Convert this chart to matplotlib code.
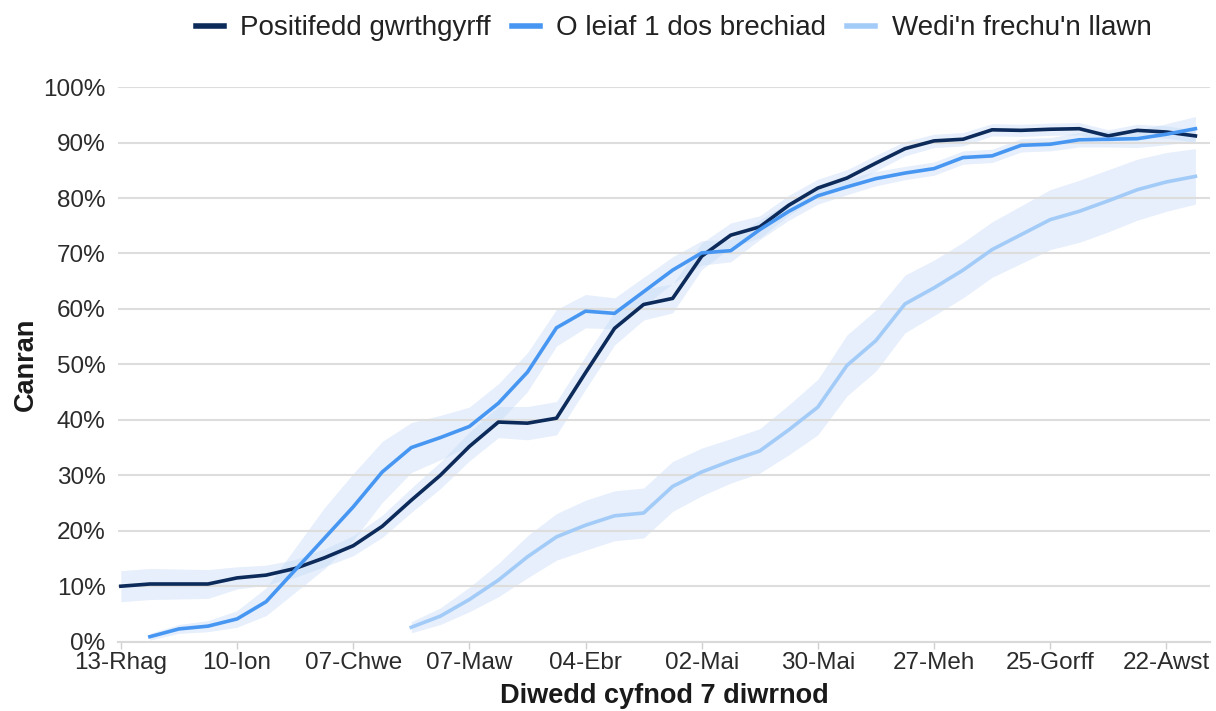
import numpy as np
import matplotlib.pyplot as plt
from matplotlib.lines import Line2D

plt.rcParams['font.family'] = ['Liberation Sans', 'DejaVu Sans']

# weekly points, 13-Rhag 2020 to 29-Awst 2021
weeks = np.arange(38)
tick_pos = [0, 4, 8, 12, 16, 20, 24, 28, 32, 36]
tick_labels = ["13-Rhag", "10-Ion", "07-Chwe", "07-Maw", "04-Ebr",
               "02-Mai", "30-Mai", "27-Meh", "25-Gorff", "22-Awst"]

nan = np.nan
# Positifedd gwrthgyrff
antibody = [10.0, 10.4, 10.4, 10.4, 11.5, 12.0, 13.2, 15.1, 17.3, 20.8,
            25.5, 30.0, 35.2, 39.6, 39.4, 40.3, 48.5, 56.5, 60.8, 61.9,
            69.5, 73.3, 74.8, 78.7, 81.8, 83.6, 86.3, 88.9, 90.3, 90.6,
            92.3, 92.2, 92.4, 92.5, 91.2, 92.2, 91.9, 91.2]
antibody_err = [2.8, 2.8, 2.7, 2.6, 2.0, 1.8, 1.6, 1.6, 1.8, 2.0,
                2.2, 2.4, 2.6, 2.8, 3.0, 3.0, 3.0, 3.0, 2.8, 2.6,
                2.4, 2.2, 2.0, 1.8, 1.6, 1.5, 1.4, 1.3, 1.2, 1.2,
                1.1, 1.1, 1.1, 1.1, 1.1, 1.1, 1.1, 1.1]

# O leiaf 1 dos brechiad
one_dose = [nan, 0.9, 2.3, 2.8, 4.1, 7.2, 12.9, 18.6, 24.3, 30.6,
            35.0, 36.8, 38.8, 43.0, 48.6, 56.6, 59.6, 59.2, 63.1, 67.0,
            70.1, 70.5, 74.3, 77.6, 80.4, 82.0, 83.5, 84.5, 85.3, 87.3,
            87.6, 89.5, 89.7, 90.5, 90.6, 90.7, 91.5, 92.5]
one_dose_err = [nan, 0.6, 0.8, 1.0, 1.5, 2.5, 4.0, 5.5, 6.0, 5.5,
                4.5, 4.0, 3.5, 3.5, 3.5, 3.3, 3.0, 2.8, 2.6, 2.4,
                2.2, 2.0, 1.8, 1.6, 1.5, 1.4, 1.3, 1.2, 1.2, 1.2,
                1.2, 1.2, 1.2, 1.3, 1.4, 1.6, 1.9, 2.2]

# Wedi'n frechu'n llawn
full_dose = [nan] * 10 + [
    2.6, 4.6, 7.6, 11.1, 15.3, 18.9, 21.0, 22.7, 23.2, 28.0,
    30.6, 32.6, 34.4, 38.2, 42.3, 49.8, 54.3, 60.9, 63.8, 67.0,
    70.7, 73.4, 76.1, 77.6, 79.5, 81.5, 82.9, 83.9]
full_dose_err = [nan] * 10 + [
    1.0, 1.5, 2.2, 3.0, 3.8, 4.2, 4.5, 4.5, 4.5, 4.5,
    4.3, 4.0, 4.0, 4.5, 5.0, 5.5, 5.5, 5.2, 5.0, 5.0,
    5.0, 5.2, 5.4, 5.6, 5.6, 5.5, 5.3, 5.0]

series = [
    ("Positifedd gwrthgyrff", antibody, antibody_err, "#0c2a5a"),
    ("O leiaf 1 dos brechiad", one_dose, one_dose_err, "#4797f2"),
    ("Wedi'n frechu'n llawn", full_dose, full_dose_err, "#a3cbf8"),
]

fig = plt.figure(figsize=(12.16, 7.11), dpi=100)
ax = fig.add_axes([0.097, 0.0975, 0.898, 0.780])

# confidence bands first
for name, vals, err, color in series:
    v = np.array(vals)
    e = np.array(err)
    ax.fill_between(weeks, v - e, v + e, color="#c8dcf8", alpha=0.45, lw=0, zorder=1)

handles = []
for name, vals, err, color in series:
    ax.plot(weeks, vals, color=color, lw=2.6, zorder=3, solid_joinstyle="round")
    handles.append(Line2D([0], [0], color=color, lw=4))

ax.set_xlim(-0.1, 37.5)
ax.set_ylim(0, 100)
ax.set_yticks(np.arange(0, 101, 10))
ax.set_yticklabels([f"{t}%" for t in range(0, 101, 10)])
ax.set_xticks(tick_pos)
ax.set_xticklabels(tick_labels)

ax.grid(axis="y", color="#dddddd", lw=1.5, zorder=0)
for s in ["left", "right", "top"]:
    ax.spines[s].set_visible(False)
ax.spines["bottom"].set_color("#d9d9d9")
ax.spines["bottom"].set_linewidth(1.5)
ax.tick_params(axis="y", length=0, pad=9, labelsize=17.5, labelcolor="#2b2b2b")
ax.tick_params(axis="x", length=5, color="#d0d0d0", width=1, pad=2.5,
               labelsize=17.5, labelcolor="#2b2b2b")

ax.set_ylabel("Canran", fontsize=19.5, fontweight="bold", color="#1a1a1a")
ax.yaxis.set_label_coords(-0.072, 0.5)
ax.set_xlabel("Diwedd cyfnod 7 diwrnod", fontsize=19.5, fontweight="bold", color="#1a1a1a")
ax.xaxis.set_label_coords(0.5, -0.075)

fig.legend(handles, [s[0] for s in series], loc="center", bbox_to_anchor=(0.554, 0.96),
           ncol=3, frameon=False, fontsize=20, handlelength=1.0,
           handletextpad=0.6, columnspacing=0.75, labelcolor="#222222")

fig.savefig("out.png", dpi=100)
